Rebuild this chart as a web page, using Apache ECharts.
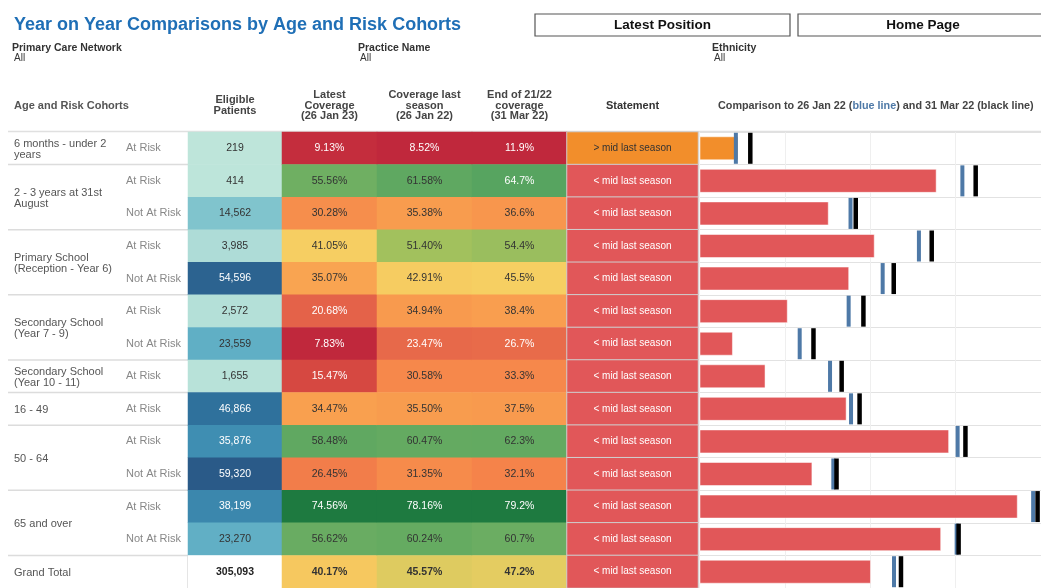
<!DOCTYPE html>
<html>
<head>
<meta charset="utf-8">
<script src="https://cdn.jsdelivr.net/npm/echarts@6/dist/echarts.min.js"></script>
<style>
  html, body { margin: 0; padding: 0; background: #fff; }
  #chart { width: 1041px; height: 588px; }
</style>
</head>
<body>
<div id="chart"></div>
<script>
// cohort groups and how many rows each one spans
const groupNames = ['6 months - under 2\nyears', '2 - 3 years at 31st\nAugust', 'Primary School\n(Reception - Year 6)',
  'Secondary School\n(Year 7 - 9)', 'Secondary School\n(Year 10 - 11)', '16 - 49', '50 - 64', '65 and over', 'Grand Total'];
const groupSizes = [1, 2, 2, 2, 1, 1, 2, 2, 1];
const risks = ['At Risk', 'At Risk', 'Not At Risk', 'At Risk', 'Not At Risk', 'At Risk', 'Not At Risk',
  'At Risk', 'At Risk', 'At Risk', 'Not At Risk', 'At Risk', 'Not At Risk', ''];
const eligible = [219, 414, 14562, 3985, 54596, 2572, 23559, 1655, 46866, 35876, 59320, 38199, 23270, 305093];
const latest = [9.13, 55.56, 30.28, 41.05, 35.07, 20.68, 7.83, 15.47, 34.47, 58.48, 26.45, 74.56, 56.62, 40.17];
const lastSeason = [8.52, 61.58, 35.38, 51.40, 42.91, 34.94, 23.47, 30.58, 35.50, 60.47, 31.35, 78.16, 60.24, 45.57];
const endSeason = [11.9, 64.7, 36.6, 54.4, 45.5, 38.4, 26.7, 33.3, 37.5, 62.3, 32.1, 79.2, 60.7, 47.2];
const statements = ['> mid last season', '< mid last season', '< mid last season', '< mid last season',
  '< mid last season', '< mid last season', '< mid last season', '< mid last season', '< mid last season',
  '< mid last season', '< mid last season', '< mid last season', '< mid last season', '< mid last season'];
const covColumns = [latest, lastSeason, endSeason];
const covDecimals = [2, 2, 1];

const font = 'Liberation Sans, Arial, Helvetica, sans-serif';
const rdYlGn = ['#c0283c', '#d4433f', '#e5654a', '#f5834a', '#f9a04f', '#f6cf62',
  '#abc45c', '#74b163', '#52a25f', '#378e4f', '#1e7a40'];
const tealBlue = ['#bee5da', '#7ec3cd', '#4aa0bf', '#3075a0', '#2a5a88'];
const stmtColor = s => s.charAt(0) === '>' ? '#f28e2b' : '#e15759';

const rowKeys = risks.map((_, i) => 'r' + i);
const last = rowKeys.length - 1;
const gridTop = 132, rowH = 32.9, gridH = rowH * rowKeys.length;
const g = [
  { left: 188, top: gridTop, width: 94, height: gridH },
  { left: 282, top: gridTop, width: 285, height: gridH },
  { left: 567, top: gridTop, width: 131, height: gridH },
  { left: 699.5, top: gridTop, width: 341.5, height: gridH }
];

const chart = echarts.init(document.getElementById('chart'));

const eligMin = Math.min(...eligible.slice(0, last)), eligMax = Math.max(...eligible.slice(0, last));
const eligData = eligible.slice(0, last).map((v, i) => ({
  value: [0, i, v],
  label: { color: (v - eligMin) / (eligMax - eligMin) > 0.5 ? '#fff' : '#333' }
}));

const covSeries = [], covMaps = [];
covColumns.forEach((col, c) => {
  const mn = Math.min(...col), mx = Math.max(...col);
  covSeries.push({
    type: 'heatmap', xAxisIndex: 1, yAxisIndex: 1,
    data: col.map((v, i) => {
      const t = (v - mn) / (mx - mn);
      return {
        value: [c, i, v],
        label: { color: (t < 0.275 || t > 0.77) ? '#fff' : '#333', fontWeight: i === last ? 'bold' : 'normal' }
      };
    }),
    label: { show: true, fontSize: 10.5, fontFamily: font, formatter: p => p.value[2].toFixed(covDecimals[c]) + '%' }
  });
  covMaps.push({ type: 'continuous', show: false, seriesIndex: 2 + c, dimension: 2, min: mn, max: mx, inRange: { color: rdYlGn } });
});

const hiddenX = i => ({ gridIndex: i, type: 'category', data: [0, 1, 2].slice(0, i === 1 ? 3 : 1), show: false });
const yAx = i => ({
  gridIndex: i, type: 'category', data: rowKeys, inverse: true,
  axisLine: { show: false }, axisTick: { show: false }, axisLabel: { show: false }
});

const yAxes = [0, 1, 2, 3].map(yAx);
yAxes[0].axisLabel = { show: true, align: 'left', margin: 62, color: '#888', fontSize: 11, fontFamily: font, formatter: (v, i) => risks[i] };
yAxes[3].splitLine = { show: true, lineStyle: { color: '#e2e2e2', width: 1 } };

chart.setOption({
  animation: false,
  textStyle: { fontFamily: font },
  grid: g,
  xAxis: [hiddenX(0), hiddenX(1), hiddenX(2), {
    gridIndex: 3, type: 'value', min: 0, max: 80, interval: 20,
    axisLine: { show: false }, axisTick: { show: false }, axisLabel: { show: false },
    splitLine: { lineStyle: { color: '#efefef' } }
  }],
  yAxis: yAxes,
  visualMap: [
    { type: 'continuous', show: false, seriesIndex: 0, dimension: 2, min: eligMin, max: eligMax, inRange: { color: tealBlue } }
  ].concat(covMaps),
  series: [
    {
      type: 'heatmap', xAxisIndex: 0, yAxisIndex: 0, data: eligData,
      label: { show: true, fontSize: 10.5, fontFamily: font, formatter: p => p.value[2].toLocaleString('en-US') }
    },
    {
      name: 'Grand Total', type: 'heatmap', xAxisIndex: 0, yAxisIndex: 0,
      data: [{ value: [0, last, eligible[last]], itemStyle: { color: '#fff' } }],
      label: { show: true, fontSize: 10.5, fontWeight: 'bold', color: '#222', fontFamily: font,
        formatter: p => p.value[2].toLocaleString('en-US') }
    }
  ].concat(covSeries).concat([
    {
      type: 'heatmap', xAxisIndex: 2, yAxisIndex: 2,
      data: statements.map((s, i) => ({
        value: [0, i, 1],
        itemStyle: { color: stmtColor(s) },
        label: { color: s.charAt(0) === '>' ? '#333' : '#fff' }
      })),
      itemStyle: { borderColor: '#cfcfcf', borderWidth: 1 },
      label: { show: true, fontSize: 10, fontFamily: font, formatter: p => statements[p.dataIndex] }
    },
    {
      type: 'bar', xAxisIndex: 3, yAxisIndex: 3, barWidth: 24,
      data: latest.map((v, i) => ({ value: v, itemStyle: { color: stmtColor(statements[i]) } })),
      itemStyle: { borderColor: 'rgba(255,255,255,0.5)', borderWidth: 1 }
    },
    {
      type: 'scatter', xAxisIndex: 3, yAxisIndex: 3, symbol: 'rect', symbolSize: [4, 31],
      itemStyle: { color: '#4e79a7', opacity: 1 }, z: 3,
      data: lastSeason.map((v, i) => [v, i])
    },
    {
      type: 'scatter', xAxisIndex: 3, yAxisIndex: 3, symbol: 'rect', symbolSize: [4.5, 31],
      itemStyle: { color: '#000', opacity: 1 }, z: 4,
      data: endSeason.map((v, i) => [v, i])
    }
  ])
});

// layout texts, headers and separators placed from the axes
const yOf = i => chart.convertToPixel({ yAxisIndex: 0 }, rowKeys[i]);
const band = yOf(1) - yOf(0);
const graphic = [];
const txt = (x, y, text, o) => graphic.push({
  type: 'text', x: x, y: y, silent: true,
  style: Object.assign({ text: text, fontFamily: font, fontSize: 11, fill: '#555', verticalAlign: 'middle' }, o || {})
});

txt(14, 25, 'Year on Year Comparisons by Age and Risk Cohorts', { fontSize: 18, fontWeight: 'bold', fill: '#1f6fb6' });
[[535, 255, 'Latest Position'], [798, 250, 'Home Page']].forEach(b => {
  graphic.push({ type: 'rect', shape: { x: b[0], y: 14, width: b[1], height: 22 }, style: { fill: '#fff', stroke: '#555', lineWidth: 1.2 } });
  txt(b[0] + b[1] / 2, 25.5, b[2], { align: 'center', fontSize: 13.5, fontWeight: 'bold', fill: '#111' });
});
[[12, 'Primary Care Network'], [358, 'Practice Name'], [712, 'Ethnicity']].forEach(f => {
  txt(f[0], 48, f[1], { fontSize: 10.5, fontWeight: 'bold', fill: '#333' });
  txt(f[0] + 2, 58.5, 'All', { fontSize: 10, fill: '#333' });
});

const hy = 105.5;
const hStyle = { align: 'center', fontWeight: 'bold', fill: '#444', lineHeight: 10.5, fontSize: 11 };
txt(14, hy + 0.5, 'Age and Risk Cohorts', { fontSize: 11, fontWeight: 'bold', fill: '#555' });
txt(g[0].left + g[0].width / 2, hy, 'Eligible\nPatients', hStyle);
['Latest\nCoverage\n(26 Jan 23)', 'Coverage last\nseason\n(26 Jan 22)', 'End of 21/22\ncoverage\n(31 Mar 22)'].forEach((t, c) => {
  txt(g[1].left + g[1].width / 6 * (2 * c + 1), hy, t, hStyle);
});
txt(g[2].left + g[2].width / 2, hy + 0.5, 'Statement', { align: 'center', fontWeight: 'bold', fill: '#333', fontSize: 11 });
graphic.push({
  type: 'text', x: 718, y: hy + 0.5, silent: true,
  style: {
    text: '{a|Comparison to 26 Jan 22 (}{b|blue line}{a|) and 31 Mar 22 (black line)}',
    verticalAlign: 'middle',
    rich: {
      a: { fontFamily: font, fontSize: 10.8, fontWeight: 'bold', fill: '#444' },
      b: { fontFamily: font, fontSize: 10.8, fontWeight: 'bold', fill: '#4e79a7' }
    }
  }
});

// header rule
graphic.push({ type: 'line', shape: { x1: 8, y1: yOf(0) - band / 2 - 0.5, x2: 1041, y2: yOf(0) - band / 2 - 0.5 }, style: { stroke: '#e0e0e0', lineWidth: 1.5 } });

// cohort labels and group separators
let start = 0;
groupNames.forEach((name, k) => {
  const end = start + groupSizes[k] - 1;
  const cy = (yOf(start) + yOf(end)) / 2;
  txt(14, cy + 1, name, { fontSize: 11, fill: '#555', lineHeight: 11 });
  if (start > 0) {
    const by = yOf(start) - band / 2;
    graphic.push({ type: 'line', shape: { x1: 8, y1: by, x2: g[0].left, y2: by }, style: { stroke: '#dcdcdc', lineWidth: 1.5 } });
  }
  start = end + 1;
});
graphic.push({ type: 'line', shape: { x1: g[0].left - 0.5, y1: yOf(last) - band / 2, x2: g[0].left - 0.5, y2: 588 }, style: { stroke: '#dcdcdc', lineWidth: 1 } });

chart.setOption({ graphic: graphic });
</script>
</body>
</html>
